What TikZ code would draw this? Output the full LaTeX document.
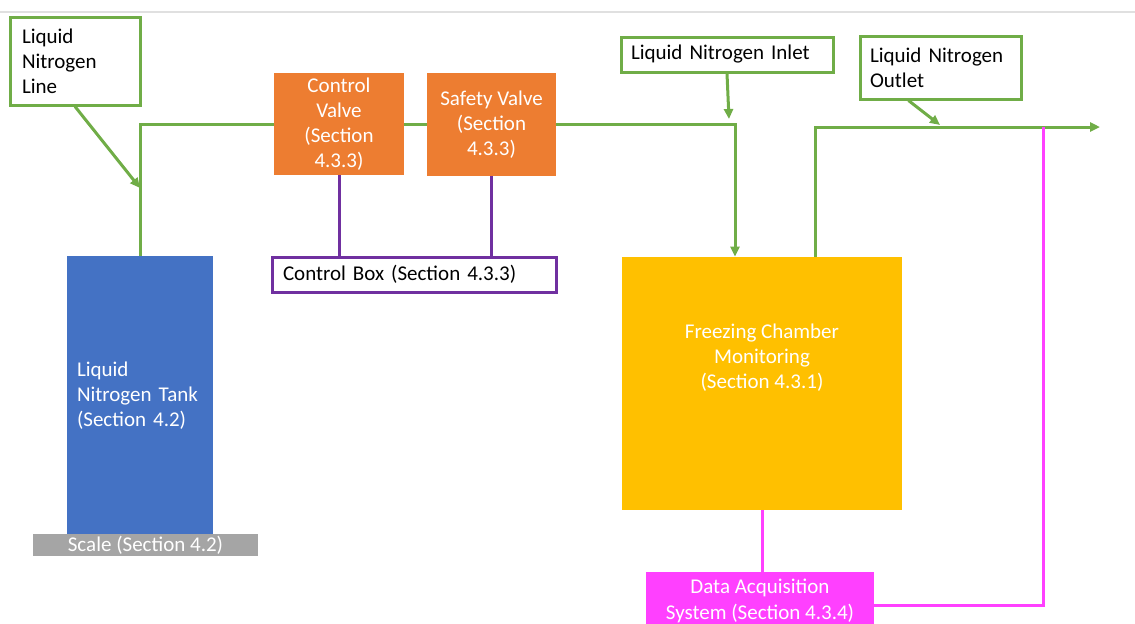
\documentclass[tikz,border=0pt]{standalone}
\usepackage{fontspec}
\setmainfont{Carlito}
\usetikzlibrary{arrows.meta}

\definecolor{pipegreen}{HTML}{70AD47}
\definecolor{valveorange}{HTML}{ED7D31}
\definecolor{tankblue}{HTML}{4472C4}
\definecolor{scalegray}{HTML}{A5A5A5}
\definecolor{chamberyellow}{HTML}{FFC000}
\definecolor{ctrlpurple}{HTML}{7030A0}
\definecolor{daqpink}{HTML}{FF40FF}

\tikzset{
  lbl/.style={draw=pipegreen, line width=1.5pt, fill=white, text=black, align=left, inner xsep=5pt, inner ysep=0pt},
  valve/.style={fill=valveorange, text=white, align=center, inner sep=0pt},
  pipe/.style={draw=pipegreen, line width=1.5pt},
  flow/.style={pipe, -{Triangle[length=5pt,width=4.5pt]}},
  signal/.style={draw=ctrlpurple, line width=1.5pt},
  datalink/.style={draw=daqpink, line width=1.5pt}
}

\begin{document}
\begin{tikzpicture}[x=0.5pt,y=-0.5pt,font=\fontsize{10.5}{12.6}\selectfont]
        \useasboundingbox (0,0) rectangle (1135,623);
        \draw [draw=black!12, line width=1pt] (0,12) -- (1135,12);
        % Tank, scale and line label (left)
        \node [fill=tankblue, text=white, align=left, inner xsep=5pt, text width=63pt, minimum width=73pt, minimum height=139.5pt] (tank) at (140,395.5) {Liquid\\Nitrogen Tank\\(Section 4.2)};
        \node [fill=scalegray, text=white, inner sep=0pt, minimum width=112.5pt, minimum height=11pt] (scale) at (145.5,545) {Scale (Section 4.2)};
        \node [lbl, inner xsep=6pt, text width=53pt, minimum width=65pt, minimum height=44pt] (lnline) at (75,61) {Liquid\\Nitrogen\\Line};
        %
        % Valves and control box
        \node [valve, minimum width=65pt, minimum height=51pt] (cvalve) at (339,124) {Control\\Valve\\(Section\\4.3.3)};
        \node [valve, minimum width=64.5pt, minimum height=51.5pt] (svalve) at (491.5,124.5) {Safety Valve\\(Section\\4.3.3)};
        \node [draw=ctrlpurple, line width=1.5pt, fill=white, text=black, align=left, inner xsep=5.5pt, inner ysep=0pt, text width=131pt, minimum width=142pt, minimum height=17.5pt] (cbox) at (414,274.5) {Control Box (Section 4.3.3)};
        %
        % Chamber, inlet/outlet labels and data acquisition (right)
        \node [fill=chamberyellow, minimum width=140pt, minimum height=126.5pt, label={[text=white, align=center, yshift=13pt]center:{Freezing Chamber\\Monitoring\\(Section 4.3.1)}}] (chamber) at (762,383.5) {};
        \node [lbl, text width=96pt, minimum width=106pt, minimum height=17.5pt] (inlet) at (727,54.5) {Liquid Nitrogen Inlet};
        \node [lbl, text width=70.5pt, minimum width=80.5pt, minimum height=31.5pt] (outlet) at (940.5,67.5) {Liquid Nitrogen\\Outlet};
        \node [fill=daqpink, text=white, align=center, inner sep=0pt, minimum width=114pt, minimum height=29pt] (daq) at (760,601) {Data Acquisition\\System (Section 4.3.4)};
        %
        \coordinate (lnhit) at (140,188);
        \coordinate (inhit) at (729,119);
        \coordinate (outhit) at (940,125);
        \coordinate (exit) at (1100,127);
        \coordinate (tap) at (1043,127);
        %
        % Nitrogen lines
        \draw [pipe] (tank.north) |- (cvalve.west);
        \draw [pipe] (cvalve.east) -- (cvalve.east -| svalve.west);
        \draw [flow] (svalve.east) -| ([xshift=-13.5pt]chamber.north);
        \draw [flow] ([xshift=26.5pt]chamber.north) |- (exit);
        \draw [flow] (lnline.south) -- (lnhit);
        \draw [flow] (inlet.south) -- (inhit);
        \draw [flow] ([xshift=-16pt]outlet.south) -- (outhit);
        %
        % Control and data links
        \draw [signal] (cvalve.south) -- (cvalve.south |- cbox.north);
        \draw [signal] (svalve.south) -- (svalve.south |- cbox.north);
        \draw [datalink] (chamber.south) -- (chamber.south |- daq.north);
        \draw [datalink] ([yshift=-2pt]daq.east) -| (tap);
\end{tikzpicture}
\end{document}
